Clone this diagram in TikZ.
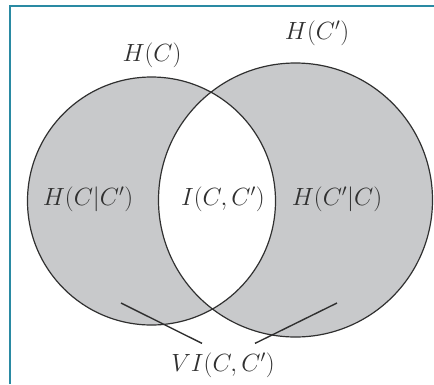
\documentclass[tikz,border=0pt]{standalone}
\usetikzlibrary{calc}
\definecolor{frame}{HTML}{2A8AA3}
\definecolor{region}{HTML}{C8C9CB}
\definecolor{ink}{HTML}{303030}
\tikzset{
  lbl/.style={inner sep=0pt, text=ink, font=\fontsize{23}{28}\selectfont},
  rim/.style={draw=ink, line width=1.2pt},
  pointer/.style={draw=ink, line width=1.4pt},
}
\begin{document}
\begin{tikzpicture}[x=1pt,y=-1pt]
  \useasboundingbox (0,0) rectangle (434,384);
  % frame along the top and left edges
  \draw[frame, line width=2.2pt] (10,384) -- (10,6) -- (434,6);
  % the two entropy discs
  \coordinate (cl) at (151.5,201);
  \coordinate (cr) at (295.5,200);
  \fill[region] (cl) circle[radius=124];
  \fill[region] (cr) circle[radius=137];
  \begin{scope}
    \clip (cl) circle[radius=124];
    \fill[white] (cr) circle[radius=137];
  \end{scope}
  \draw[rim] (cl) circle[radius=124];
  \draw[rim] (cr) circle[radius=137];
  % labels
  \node[lbl] (hc)  at (152,55)  {$H(C)$};
  \node[lbl] (hcp) at (317,33)  {$H(C')$};
  \node[lbl] (hcc) at (88,199)  {$H(C|C')$};
  \node[lbl] (mi)  at (223,199) {$I(C,C')$};
  \node[lbl] (hpc) at (337,199) {$H(C'|C)$};
  \node[lbl] (vi)  at (223,365) {$VI(C,C')$};
  % pointers from the variation of information label
  \coordinate (pl) at (121,303);
  \coordinate (pr) at (337,303);
  \coordinate (ql) at ($(vi.north)+(-21,-9)$);
  \coordinate (qr) at ($(vi.north)+(32,-9)$);
  \draw[pointer] (pl) -- (ql);
  \draw[pointer] (pr) -- (qr);
\end{tikzpicture}
\end{document}
